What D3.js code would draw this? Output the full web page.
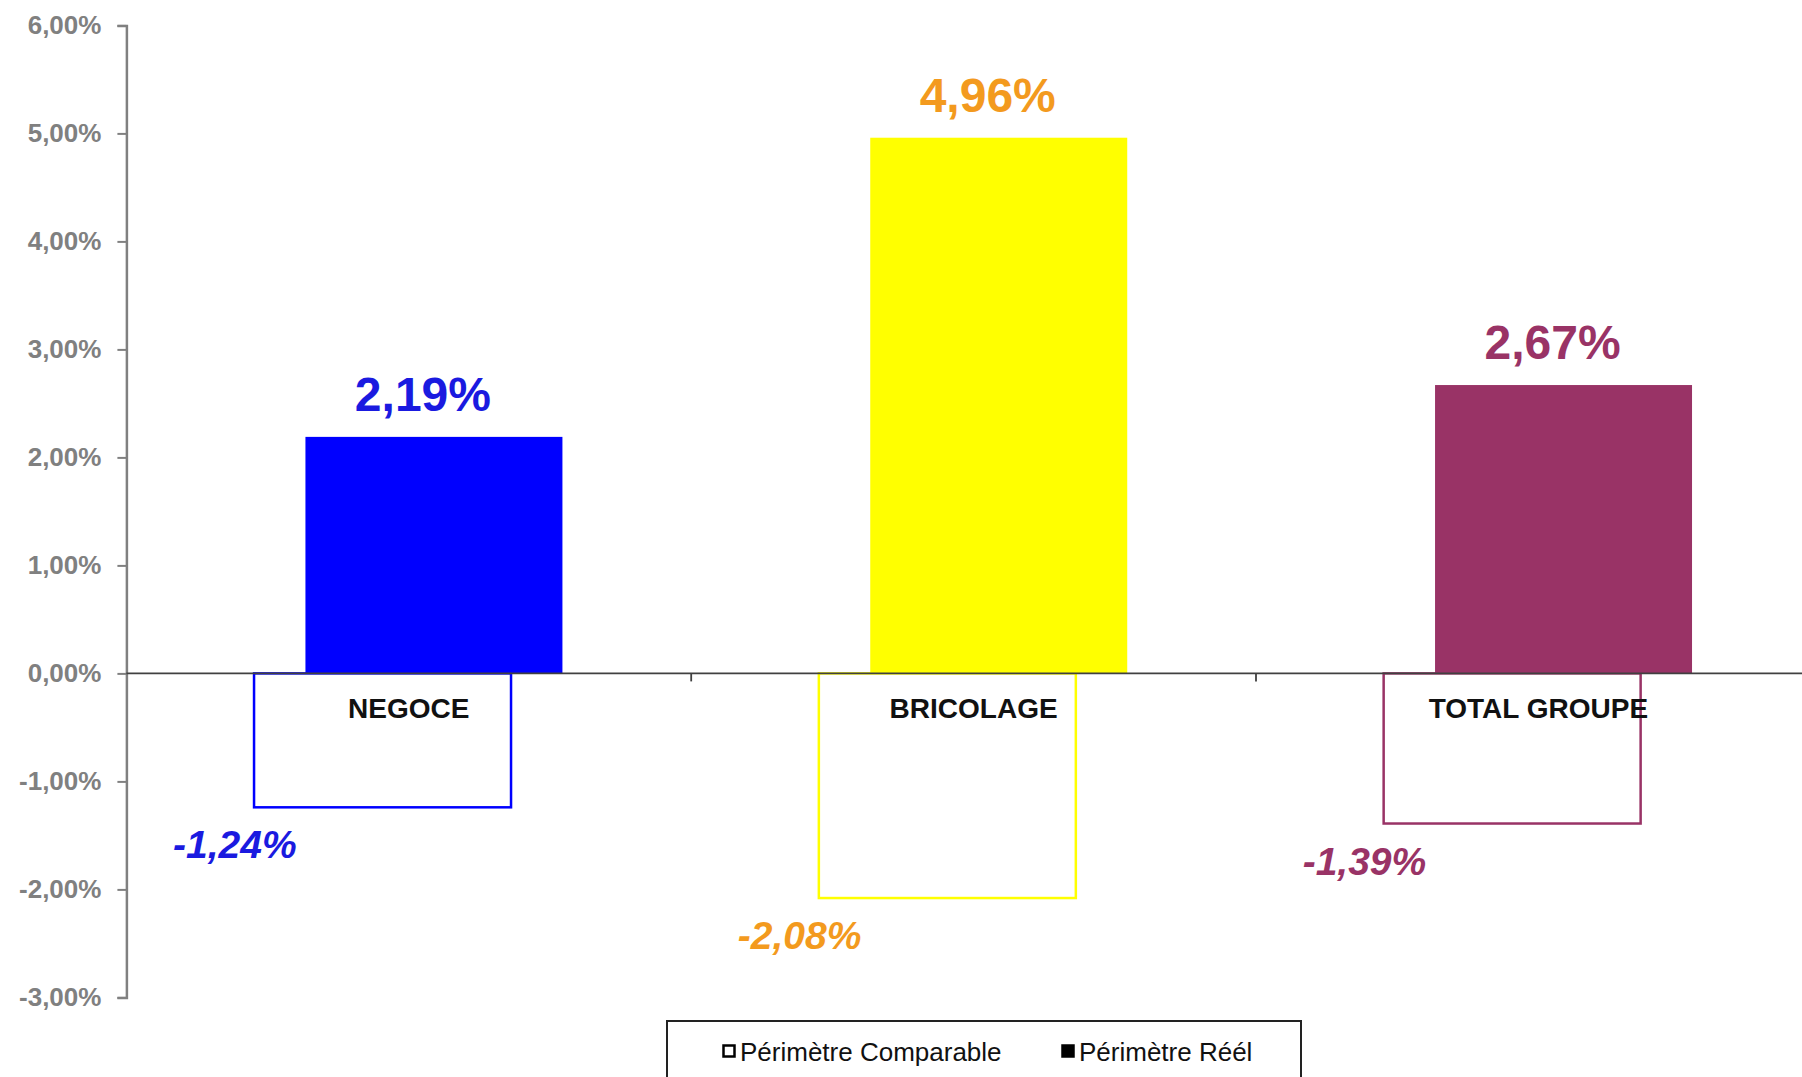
<!DOCTYPE html>
<html><head><meta charset="utf-8">
<script src="https://cdn.jsdelivr.net/npm/d3@7"></script>
<style>
html,body{margin:0;padding:0;background:#fff;overflow:hidden}
svg{display:block;font-family:"Liberation Sans",Arial,sans-serif}
</style></head>
<body>
<svg id="chart" width="1802" height="1077"></svg>
<script>
// ---- data ----
const categories = ["NEGOCE", "BRICOLAGE", "TOTAL GROUPE"];
const perimetreReel = [2.19, 4.96, 2.67];
const perimetreComparable = [-1.24, -2.08, -1.39];
const barColors = ["#0000ff", "#ffff00", "#993366"];
const labelColors = ["#1a1ae0", "#f39a1e", "#993366"];
const negLabelColors = ["#1a1ae0", "#f39a1e", "#993366"];
const yTicks = [-3, -2, -1, 0, 1, 2, 3, 4, 5, 6];
const legendLabels = ["Périmètre Comparable", "Périmètre Réél"];

// ---- layout ----
const svg = d3.select("#chart");
const x0 = 126.4, bw = 564.8;
const x = d3.scaleBand().domain(categories).range([x0, x0 + 3 * bw]).padding(0);
const y = d3.scaleLinear().domain([-3, 6]).range([997.4, 25.4]);
const fmt = v => d3.format(".2f")(v).replace(".", ",").replace("\u2212", "-") + "%";

// y axis
const yAxis = svg.append("g").attr("transform", `translate(${x0},0)`)
  .call(d3.axisLeft(y).tickValues(yTicks).tickFormat(fmt).tickSize(9).tickSizeOuter(9).tickPadding(16));
yAxis.select(".domain").attr("stroke", "#808080").attr("stroke-width", 2.5);
yAxis.selectAll(".tick line").attr("stroke", "#808080").attr("stroke-width", 2);
yAxis.selectAll(".tick text").attr("fill", "#808080").attr("font-size", 26).attr("font-weight", "bold")
  .attr("font-family", "Liberation Sans, Arial, sans-serif");

const bwid = x.bandwidth();
// filled bars (Périmètre Réél)
svg.append("g").selectAll("rect").data(categories).join("rect")
  .attr("x", c => x(c) + 0.317 * bwid)
  .attr("width", 0.455 * bwid)
  .attr("y", (c, i) => y(perimetreReel[i]))
  .attr("height", (c, i) => y(0) - y(perimetreReel[i]))
  .attr("fill", (c, i) => barColors[i]);

// outline bars (Périmètre Comparable)
svg.append("g").selectAll("rect").data(categories).join("rect")
  .attr("x", c => x(c) + 0.226 * bwid)
  .attr("width", 0.455 * bwid)
  .attr("y", y(0))
  .attr("height", (c, i) => y(perimetreComparable[i]) - y(0))
  .attr("fill", "none")
  .attr("stroke", (c, i) => barColors[i])
  .attr("stroke-width", 2.5);

// zero line with category ticks
const zg = svg.append("g").attr("transform", `translate(0,${y(0)})`);
zg.append("line").attr("x1", x0).attr("x2", x0 + 3 * bwid).attr("stroke", "#404040").attr("stroke-width", 1.8);
zg.selectAll("line.ct").data(categories.slice(1)).join("line").attr("class", "ct")
  .attr("x1", c => x(c)).attr("x2", c => x(c)).attr("y1", 0).attr("y2", 8)
  .attr("stroke", "#404040").attr("stroke-width", 1.8);

// category labels
svg.append("g").selectAll("text").data(categories).join("text")
  .attr("x", c => x(c) + bwid / 2).attr("y", y(0) + 45)
  .attr("text-anchor", "middle").attr("font-size", 28).attr("font-weight", "bold").attr("fill", "#111")
  .text(c => c);

// positive value labels
svg.append("g").selectAll("text").data(categories).join("text")
  .attr("x", c => x(c) + 0.525 * bwid)
  .attr("y", (c, i) => y(perimetreReel[i]) - 26)
  .attr("text-anchor", "middle").attr("font-size", 48).attr("font-weight", "bold")
  .attr("fill", (c, i) => labelColors[i])
  .text((c, i) => fmt(perimetreReel[i]));

// negative value labels
svg.append("g").selectAll("text").data(categories).join("text")
  .attr("x", c => x(c) + 0.192 * bwid)
  .attr("y", (c, i) => y(perimetreComparable[i]) + 51)
  .attr("text-anchor", "middle").attr("font-size", 39).attr("font-weight", "bold").attr("font-style", "italic")
  .attr("fill", (c, i) => negLabelColors[i])
  .text((c, i) => fmt(perimetreComparable[i]));

// legend
const lg = svg.append("g");
lg.append("rect").attr("x", 667).attr("y", 1021).attr("width", 634).attr("height", 80)
  .attr("fill", "#fff").attr("stroke", "#222").attr("stroke-width", 2);
const items = lg.selectAll("g.it").data(legendLabels).join("g").attr("class", "it")
  .attr("transform", (d, i) => `translate(${i === 0 ? 723 : 1062},1045)`);
items.append("rect").attr("width", 11).attr("height", 11).attr("x", 0.5).attr("y", 0.5)
  .attr("fill", (d, i) => i === 0 ? "#fff" : "#000").attr("stroke", "#000").attr("stroke-width", 2.5);
items.append("text").attr("x", 17).attr("y", 16).attr("font-size", 26).attr("fill", "#111").text(d => d);
</script>
</body></html>
